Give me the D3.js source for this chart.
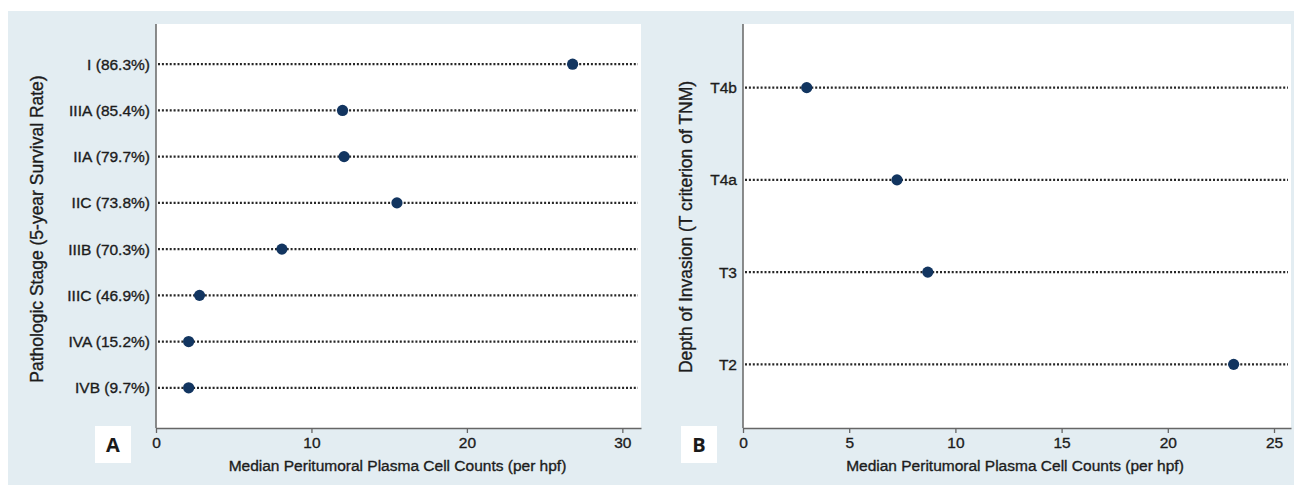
<!DOCTYPE html>
<html>
<head>
<meta charset="utf-8">
<script src="https://cdn.jsdelivr.net/npm/d3@7/dist/d3.min.js"></script>
<style>
  html, body { margin: 0; padding: 0; background: #ffffff; }
  svg { display: block; }
  .lbl { font-family: "Liberation Sans", Arial, sans-serif; fill: #1c1c1c; stroke: #1c1c1c; stroke-width: 0.35px; }
</style>
</head>
<body>
<svg id="chart" width="1294" height="485"></svg>
<script>
// Panel A: pathologic stage (with 5-year survival rate)
const stagesA = ["I (86.3%)", "IIIA (85.4%)", "IIA (79.7%)", "IIC (73.8%)",
                 "IIIB (70.3%)", "IIIC (46.9%)", "IVA (15.2%)", "IVB (9.7%)"];
const countsA = [26.8, 12.0, 12.1, 15.5, 8.1, 2.8, 2.1, 2.1];
const ticksA = [0, 10, 20, 30];

// Panel B: depth of invasion (T criterion)
const depthB = ["T4b", "T4a", "T3", "T2"];
const countsB = [3.0, 7.25, 8.7, 23.1];
const ticksB = [0, 5, 10, 15, 20, 25];

const xTitle = "Median Peritumoral Plasma Cell Counts (per hpf)";

const svg = d3.select("#chart");

// light blue-grey figure background
svg.append("rect").attr("x", 8).attr("y", 11).attr("width", 1286).attr("height", 474)
  .attr("fill", "#e3edf2");

function panel(cfg) {
  const x = d3.scaleLinear().domain(cfg.xDomain).range([cfg.left, cfg.right]);
  const y = d3.scalePoint().domain(cfg.cats).range([cfg.top, cfg.bottom]).padding(cfg.pad);
  const g = svg.append("g");

  // plot region
  g.append("rect").attr("x", cfg.left).attr("y", cfg.top)
    .attr("width", cfg.right - cfg.left).attr("height", cfg.bottom - cfg.top)
    .attr("fill", "#ffffff");

  // dotted guide lines
  g.selectAll("line.guide").data(cfg.cats).join("line")
    .attr("class", "guide")
    .attr("x1", cfg.left + 2).attr("x2", cfg.right - 3)
    .attr("y1", d => y(d)).attr("y2", d => y(d))
    .attr("stroke", "#262626").attr("stroke-width", 2.2)
    .attr("stroke-dasharray", "2,1.9");

  // x axis
  const xa = g.append("g").attr("transform", `translate(0,${cfg.bottom})`)
    .call(d3.axisBottom(x).tickValues(cfg.ticks).tickSize(5).tickSizeOuter(0).tickPadding(4));
  xa.select(".domain").attr("stroke", "#666").attr("stroke-width", 1.5);
  xa.selectAll(".tick line").attr("stroke", "#666").attr("stroke-width", 1.3);
  xa.selectAll(".tick text").attr("class", "lbl").attr("font-size", 15.5);

  // y axis
  const ya = g.append("g").attr("transform", `translate(${cfg.left},0)`)
    .call(d3.axisLeft(y).tickSize(0).tickPadding(6));
  ya.select(".domain").attr("stroke", "#666").attr("stroke-width", 1.5)
    .attr("d", `M0,${cfg.top}V${cfg.bottom}`);
  ya.selectAll(".tick text").attr("class", "lbl").attr("font-size", 15.5);

  // points
  g.selectAll("circle").data(cfg.cats.map((c, i) => ({ c, v: cfg.values[i] }))).join("circle")
    .attr("cx", d => x(d.v)).attr("cy", d => y(d.c)).attr("r", 5.6)
    .attr("fill", "#123560");

  // axis titles
  g.append("text").attr("class", "lbl")
    .attr("x", (cfg.left + cfg.right) / 2 + cfg.xTitleShift).attr("y", 471)
    .attr("text-anchor", "middle").attr("font-size", 15.5).text(xTitle);
  g.append("text").attr("class", "lbl")
    .attr("transform", `translate(${cfg.yTitleX},${cfg.yTitleY}) rotate(-90)`)
    .attr("text-anchor", "middle").attr("font-size", 17.5).text(cfg.yTitle);

  // panel letter
  g.append("rect").attr("x", cfg.tagX).attr("y", 426).attr("width", 36).attr("height", 37)
    .attr("fill", "#ffffff");
  g.append("text").attr("x", cfg.tagX + 18).attr("y", 452)
    .attr("text-anchor", "middle")
    .attr("font-family", "'Open Sans', 'Liberation Sans', sans-serif")
    .attr("font-weight", 700).attr("font-size", 20).attr("fill", "#1a1a1a")
    .text(cfg.tag);
}

panel({
  cats: stagesA, values: countsA, ticks: ticksA,
  xDomain: [0, 31.2], left: 156, right: 641, top: 24, bottom: 428, pad: 0.87,
  yTitle: "Pathologic Stage (5-year Survival Rate)", yTitleX: 43, yTitleY: 229,
  xTitleShift: -1, tag: "A", tagX: 95
});

panel({
  cats: depthB, values: countsB, ticks: ticksB,
  xDomain: [0, 25.8], left: 743, right: 1291, top: 24, bottom: 428, pad: 0.69,
  yTitle: "Depth of Invasion (T criterion of TNM)", yTitleX: 692, yTitleY: 227,
  xTitleShift: -2, tag: "B", tagX: 681
});
</script>
</body>
</html>
